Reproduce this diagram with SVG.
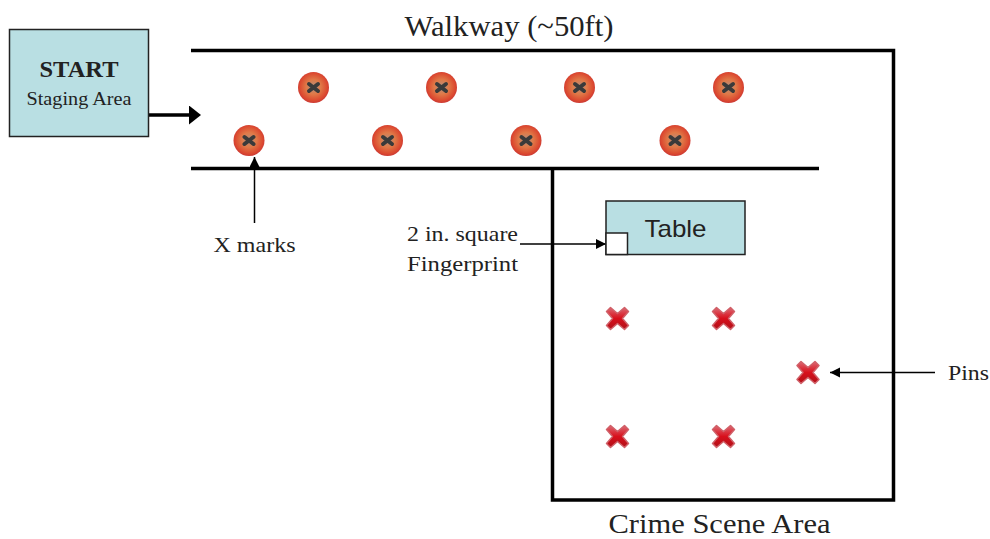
<svg xmlns="http://www.w3.org/2000/svg" xmlns:xlink="http://www.w3.org/1999/xlink" width="990" height="539" viewBox="0 0 990 539">
<style>
.wall{fill:none;stroke:#000;stroke-width:3.5}
.box{fill:#b9dfe3;stroke:#222;stroke-width:1.5}
.lead{fill:none;stroke:#000;stroke-width:1.5}
text{font-family:"Liberation Serif","Times New Roman",serif;fill:#222}
</style>
<defs>
<marker id="ah" markerUnits="userSpaceOnUse" markerWidth="12" markerHeight="12" refX="10" refY="5" orient="auto"><path d="M0 0L10 5L0 10Z" fill="#000"/></marker>
<marker id="ahb" markerUnits="userSpaceOnUse" markerWidth="14" markerHeight="20" refX="1" refY="9.500" orient="auto"><path d="M0 0L12 9.500L0 19Z" fill="#000"/></marker>
<radialGradient id="ball" cx="50%" cy="48%" r="52%"><stop offset="0" stop-color="#b09080"/><stop offset="0.45" stop-color="#e07a48"/><stop offset="0.85" stop-color="#dc4a30"/><stop offset="1" stop-color="#cc3a34"/></radialGradient>
<linearGradient id="red" x1="0" y1="0" x2="0" y2="1"><stop offset="0" stop-color="#dc6a74"/><stop offset="0.5" stop-color="#d8101c"/><stop offset="1" stop-color="#b01018"/></linearGradient>
<g id="xmark"><circle r="15.500" fill="url(#ball)"/><path d="M-4.500-3.500L4.500 3.500M4.500-3.500L-4.500 3.500" stroke="#3a3a3a" stroke-width="4" stroke-linecap="round"/></g>
<g id="pin"><path d="M-11-7L-7-11L0-5L7-11L11-7L5 0L11 7L7 11L0 5L-7 11L-11 7L-5 0Z" fill="url(#red)" stroke="#d06068" stroke-width="1.500" stroke-linejoin="round"/></g>
</defs>
<g id="connectors">
<path class="wall" d="M191 50.500H893.500V500H552.500V169M191 168.500H819"/>
<path d="M149 115H190" fill="none" stroke="#000" stroke-width="3.500" marker-end="url(#ahb)"/>
<path class="lead" d="M254.500 223V157" marker-end="url(#ah)"/>
<path class="lead" d="M520 244H606" marker-end="url(#ah)"/>
<path class="lead" d="M935 372.500H830" marker-end="url(#ah)"/>
</g>
<g id="start"><rect class="box" x="9.500" y="29.500" width="139" height="107"/><text x="79" y="77" font-size="23" font-weight="bold" text-anchor="middle" fill="#111" textLength="79" lengthAdjust="spacingAndGlyphs">START</text><text x="79" y="105" font-size="19" text-anchor="middle" textLength="105" lengthAdjust="spacingAndGlyphs">Staging Area</text></g>
<g id="table"><rect class="box" x="606" y="201" width="139" height="53.500"/><rect x="606" y="233" width="21.500" height="21.500" fill="#fff" stroke="#222" stroke-width="1.500"/><text x="675.500" y="237" font-size="24" text-anchor="middle" style="font-family:'Liberation Sans',Arial,sans-serif" fill="#111" textLength="62" lengthAdjust="spacingAndGlyphs">Table</text></g>
<g id="walkway-label"><text x="509" y="36" font-size="29" text-anchor="middle" textLength="209" lengthAdjust="spacingAndGlyphs">Walkway (~50ft)</text></g>
<g id="crime-label"><text x="719.500" y="533" font-size="27" text-anchor="middle" textLength="222" lengthAdjust="spacingAndGlyphs">Crime Scene Area</text></g>
<g id="xmarks-label"><text x="254.500" y="252" font-size="22" text-anchor="middle" textLength="82" lengthAdjust="spacingAndGlyphs">X marks</text></g>
<g id="fingerprint-label"><text x="407" y="241" font-size="22" textLength="111" lengthAdjust="spacingAndGlyphs">2 in. square</text><text x="407" y="271" font-size="22" textLength="111" lengthAdjust="spacingAndGlyphs">Fingerprint</text></g>
<g id="pins-label"><text x="948" y="380" font-size="21" textLength="41" lengthAdjust="spacingAndGlyphs">Pins</text></g>
<g id="x-marks">
<use xlink:href="#xmark" href="#xmark" x="313.500" y="87.500"/>
<use xlink:href="#xmark" href="#xmark" x="441.500" y="87.500"/>
<use xlink:href="#xmark" href="#xmark" x="579.500" y="87.500"/>
<use xlink:href="#xmark" href="#xmark" x="728.500" y="87.500"/>
<use xlink:href="#xmark" href="#xmark" x="249" y="140.500"/>
<use xlink:href="#xmark" href="#xmark" x="387.500" y="140.500"/>
<use xlink:href="#xmark" href="#xmark" x="526" y="140.500"/>
<use xlink:href="#xmark" href="#xmark" x="675" y="140.500"/>
</g>
<g id="pins">
<use xlink:href="#pin" href="#pin" x="617.500" y="318.500"/>
<use xlink:href="#pin" href="#pin" x="723.500" y="318.500"/>
<use xlink:href="#pin" href="#pin" x="808" y="372.500"/>
<use xlink:href="#pin" href="#pin" x="617.500" y="436.500"/>
<use xlink:href="#pin" href="#pin" x="723.500" y="436.500"/>
</g>
</svg>
